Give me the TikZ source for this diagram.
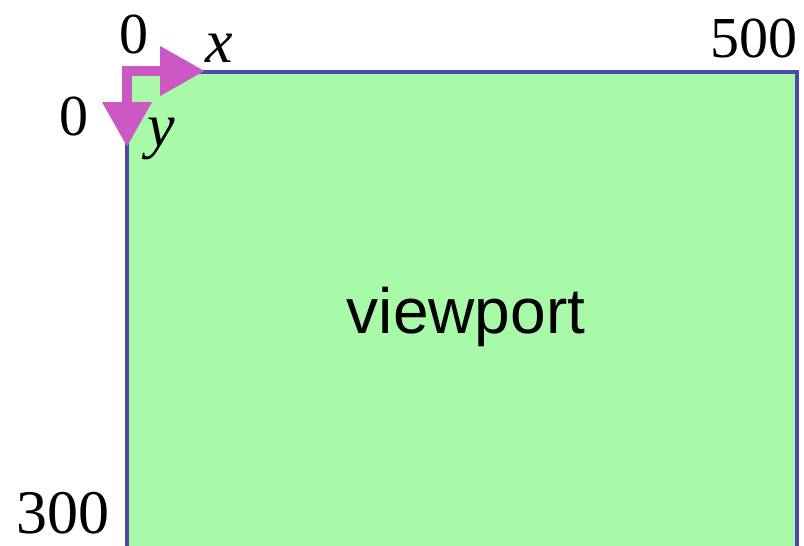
\documentclass[tikz,border=0pt]{standalone}
\usepackage{fontspec}
\setmainfont{Liberation Serif}
\newfontfamily\vpsans{Liberation Sans}
\usetikzlibrary{arrows.meta}
\definecolor{vpfill}{HTML}{A8F9A8}
\definecolor{vpborder}{HTML}{4A4AAA}
\definecolor{axmag}{HTML}{CC58C4}
\tikzset{
  numlabel/.style={inner sep=0pt, font=\fontsize{58}{60}\selectfont},
  axlabel/.style={inner sep=0pt, font=\fontsize{62}{64}\selectfont\itshape},
  axisarrow/.style={draw=axmag, line width=10.5pt, line join=miter,
    {Triangle[length=45pt,width=47pt]}-{Triangle[length=45pt,width=47pt]}},
}
\begin{document}
\begin{tikzpicture}[x=1pt,y=-1pt]
\useasboundingbox (0,0) rectangle (804,546);
\clip (0,0) rectangle (804,546);
\fill[white] (0,0) rectangle (804,546);
\draw[fill=vpfill, draw=vpborder, line width=3.5pt] (127,72) rectangle (797,600);
\node[inner sep=0pt, font=\vpsans\fontsize{64}{66}\selectfont, anchor=base] (vp) at (466,333) {viewport};
\coordinate (corner) at (127,71);
\coordinate (xtip) at (205,71);
\coordinate (ytip) at (127,147);
\draw[axisarrow] (xtip) -- (corner) -- (ytip);
\node[numlabel, anchor=base west] (zx) at (119,53) {0};
\node[numlabel, anchor=base east] (fivehundred) at (798,57) {500};
\node[numlabel, anchor=base west] (zy) at (59,135) {0};
\node[numlabel, anchor=base west, font=\fontsize{62}{64}\selectfont] (threehundred) at (16,533) {300};
\node[axlabel, anchor=base west] (xl) at (205,62) {x};
\node[axlabel, anchor=base west] (yl) at (147,146) {y};
\end{tikzpicture}
\end{document}
